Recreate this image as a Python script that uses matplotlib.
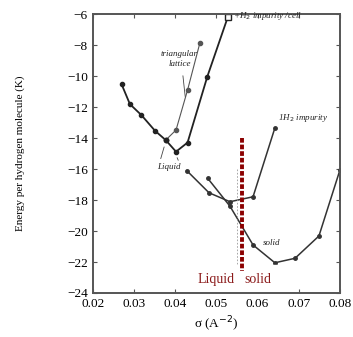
import matplotlib
matplotlib.use("Agg")
import matplotlib.pyplot as plt

# liquid branch
liq_x = [0.0270, 0.0290, 0.0318, 0.0351, 0.0377]
liq_y = [-10.54, -11.81, -12.52, -13.53, -14.13]

# triangular lattice branch
tri_x = [0.0377, 0.0402, 0.0430, 0.0460]
tri_y = [-14.13, -13.48, -10.90, -7.85]

# +H2 impurity / cell
imp_x = [0.0377, 0.0402, 0.0430, 0.0478, 0.0528]
imp_y = [-14.13, -14.88, -14.29, -10.03, -6.17]

# 1 H2 impurity
one_x = [0.0428, 0.0482, 0.0533, 0.0589, 0.0642]
one_y = [-16.10, -17.53, -18.11, -17.79, -13.35]

# solid
sol_x = [0.0479, 0.0533, 0.0589, 0.0642, 0.0691, 0.0749, 0.0800]
sol_y = [-16.60, -18.40, -20.90, -22.05, -21.76, -20.32, -16.06]

xticks = [0.02, 0.03, 0.04, 0.05, 0.06, 0.07, 0.08]
yticks = [-6, -8, -10, -12, -14, -16, -18, -20, -22, -24]

plt.rcParams['font.family'] = ['Liberation Serif', 'DejaVu Serif']

fig = plt.figure(figsize=(3.53, 3.37), dpi=100)
ax = fig.add_axes([0.263, 0.1306, 0.70, 0.8275])

lc = '#222222'
ax.plot(liq_x, liq_y, '-o', color=lc, lw=1.3, ms=3)
ax.plot(tri_x, tri_y, '-o', color='#555555', lw=0.8, ms=3)
ax.plot(imp_x, imp_y, '-o', color=lc, lw=1.3, ms=3)
ax.plot(imp_x[-1], imp_y[-1], 's', color=lc, ms=4, mfc='white', mew=1)
ax.plot(one_x, one_y, '-o', color='#333333', lw=1.1, ms=2.5)
ax.plot(sol_x, sol_y, '-o', color='#333333', lw=1.1, ms=2.5)

# faint original dashed marker
ax.plot([0.0549, 0.0549], [-16.0, -22.1], color='#999999', lw=0.6, ls=(0, (2, 2)))

# hand-written notes
hs = dict(fontsize=6.5, color='#222222', style='italic')
ax.text(0.0410, -8.9, 'triangular\nlattice', ha='center', va='center', **hs)
ax.annotate('', xy=(0.0425, -11.5), xytext=(0.0418, -9.8),
            arrowprops=dict(arrowstyle='-', color='#444444', lw=0.6))
ax.text(0.0540, -6.15, '+H$_2$ impurity /cell', ha='left', va='center', **hs)
ax.text(0.0650, -12.7, '1H$_2$ impurity', ha='left', va='center', **hs)
ax.text(0.0385, -15.9, 'Liquid', ha='center', va='center', **hs)
ax.annotate('', xy=(0.0375, -14.4), xytext=(0.0363, -15.5),
            arrowprops=dict(arrowstyle='-', color='#444444', lw=0.6))
ax.annotate('', xy=(0.0402, -15.1), xytext=(0.0410, -15.6),
            arrowprops=dict(arrowstyle='-', color='#444444', lw=0.6))
ax.text(0.0633, -20.8, 'solid', ha='center', va='center', **hs)

# red boundary and label
ax.add_patch(plt.Rectangle((0.0436, -24.0), 0.0213, 1.82, color='white', zorder=2.4))
ax.plot([0.0563, 0.0563], [-14.0, -22.6], color='#8b0000', lw=2.8,
        ls=(0, (1.2, 0.5)), zorder=4)
ax.text(0.0544, -23.1, 'Liquid', color='#8b1a1a', fontsize=10,
        ha='right', va='center', zorder=5)
ax.text(0.0569, -23.1, 'solid', color='#8b1a1a', fontsize=10,
        ha='left', va='center', zorder=5)

ax.set_xlim(0.02, 0.08)
ax.set_ylim(-24, -6)
ax.set_xticks(xticks)
ax.set_xticklabels(['%.2f' % v for v in xticks])
ax.set_yticks(yticks)
ax.tick_params(direction='in', top=True, right=True, labelsize=9.5,
               length=3, color='#555555')
for s in ax.spines.values():
    s.set_color('#555555')
    s.set_linewidth(1.4)

ax.set_xlabel('σ (A$^{-2}$)', fontsize=9.5, labelpad=4)
ax.set_ylabel('Energy per hydrogen molecule (K)', fontsize=8, labelpad=30)

fig.savefig('out.png', dpi=100)
